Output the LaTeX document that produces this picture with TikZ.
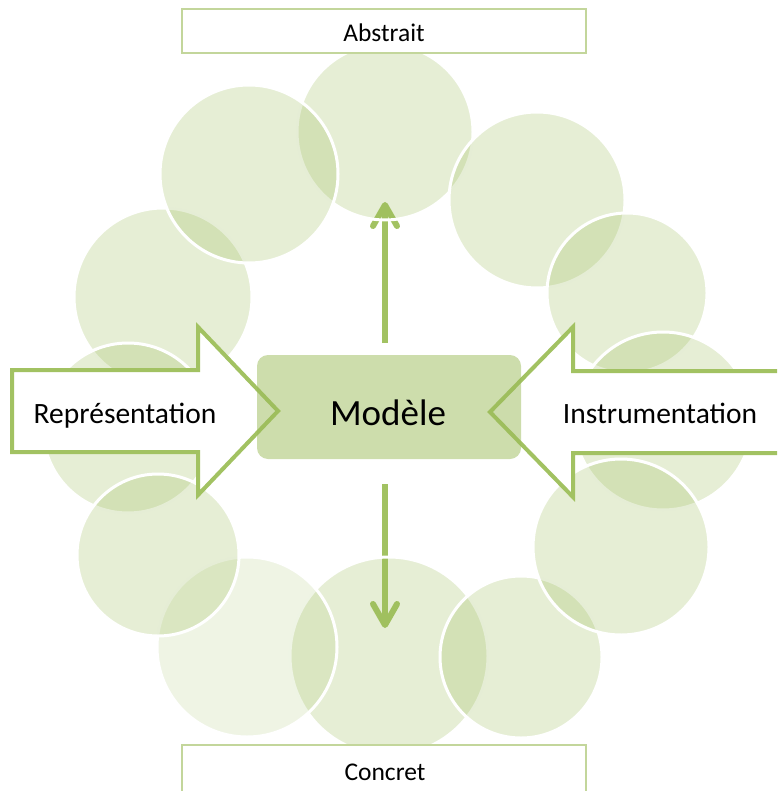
\documentclass[tikz,border=0pt]{standalone}
\usepackage{fontspec}
\setmainfont{Carlito}
\definecolor{olive}{HTML}{9BBB59}
\definecolor{arrowgreen}{HTML}{A2C262}
\definecolor{boxline}{HTML}{C3D69B}
\tikzset{
  bubble/.style={fill=olive, fill opacity=0.25, draw=white, draw opacity=1, line width=3pt},
  palebubble/.style={bubble, fill opacity=0.16},
  blockarrow/.style={draw=arrowgreen, fill=white, line width=4pt, line join=miter, miter limit=10},
  vshaft/.style={draw=arrowgreen, line width=6pt},
  vhead/.style={draw=arrowgreen, line width=6pt, line cap=round, line join=round},
  levelbox/.style={draw=boxline, fill=white, line width=1.5pt, minimum width=404pt, inner sep=0pt},
  modelebox/.style={fill=olive, fill opacity=0.5, rounded corners=11pt, minimum width=264pt, minimum height=104pt, inner sep=0pt},
  arrowtext/.style={font=\fontsize{29.5}{35}\selectfont, anchor=base, inner sep=0pt, text=black},
  boxtext/.style={font=\fontsize{25.5}{30}\selectfont, anchor=base, inner sep=0pt, text=black},
  modeletext/.style={font=\fontsize{37}{44}\selectfont, anchor=base, inner sep=0pt, text=black}
}
\begin{document}
\begin{tikzpicture}[x=1pt,y=-1pt]
\useasboundingbox (0,0) rectangle (777,791);
\clip (0,0) rectangle (777,791);
% vertical arrows (under the circles)
\coordinate (upfoot) at (385,343);
\coordinate (uptip) at (385,205);
\coordinate (upl) at (373,226);
\coordinate (upr) at (397,226);
\coordinate (downfoot) at (385,484);
\coordinate (downtip) at (385,625);
\coordinate (downl) at (373,604);
\coordinate (downr) at (397,604);
\draw[vshaft] (upfoot) -- (uptip);
\draw[vhead] (upl) -- (uptip) -- (upr);
\draw[vshaft] (downfoot) -- (downtip);
\draw[vhead] (downl) -- (downtip) -- (downr);
% circles
\path[bubble] (385,132) circle[radius=88];   % top
\path[bubble] (389,656) circle[radius=99];   % bottom centre
\path[bubble] (163,297) circle[radius=89];   % left 3
\path[bubble] (537,200) circle[radius=88];   % right 1
\path[bubble] (627,293) circle[radius=80];   % right 2
\path[bubble] (663,421) circle[radius=89];   % right 3
\path[bubble] (521,657) circle[radius=81];   % bottom right
\path[bubble] (621,547) circle[radius=88];   % right 4
\path[palebubble] (247,647) circle[radius=90]; % bottom left
\path[bubble] (128,428) circle[radius=85];   % left 4
\path[bubble] (158,555) circle[radius=81];   % left 5
\path[bubble] (249,174) circle[radius=89];   % left 2
% level boxes
\node[levelbox, minimum height=44pt] (abstrait) at (384,31) {};
\node[levelbox, minimum height=60pt] (concret) at (384,775) {};
\node[boxtext] (abstraittext) at (384,42) {Abstrait};
\node[boxtext] (concrettext) at (385,780.5) {Concret};
% block arrows
\path[blockarrow] (12,370) -- (198,370) -- (198,327) -- (278,411) -- (198,495) -- (198,452) -- (12,452) -- cycle;
\path[blockarrow] (810,371) -- (573,371) -- (573,327) -- (490,412) -- (573,497) -- (573,453) -- (810,453) -- cycle;
\node[arrowtext] (representation) at (125,423) {Représentation};
\node[arrowtext] (instrumentation) at (660,423) {Instrumentation};
% central box
\node[modelebox] (modele) at (389,407) {};
\node[modeletext] (modeletxt) at (388,425) {Modèle};
\end{tikzpicture}
\end{document}
